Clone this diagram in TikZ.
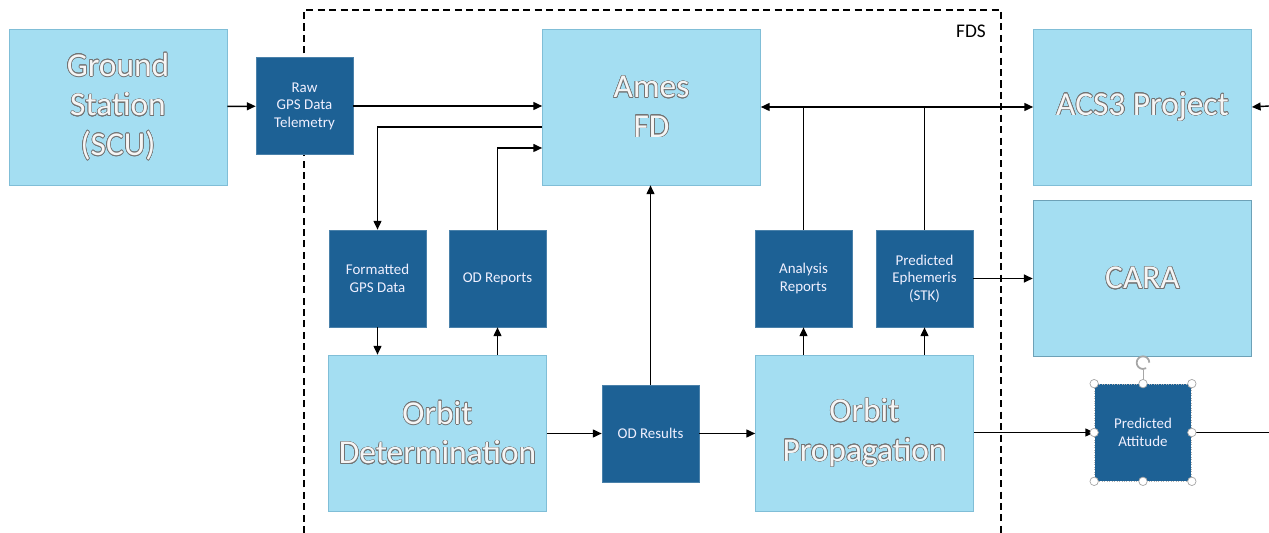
\documentclass[tikz,border=0pt]{standalone}
\usepackage{fontspec}
\setmainfont{Carlito}
\usepackage[copies]{contour}
\usepackage{tikz}
\usetikzlibrary{arrows.meta, positioning, calc}

\definecolor{lightbox}{RGB}{164,222,242}
\definecolor{lightedge}{RGB}{128,190,215}
\definecolor{darkbox}{RGB}{29,97,149}
\contourlength{0.35pt}
\newcommand{\outl}[1]{\contour{black!55}{\textcolor{white!92!gray}{#1}}}

\begin{document}
\begin{tikzpicture}[
    x=0.02cm, y=-0.02cm,
    bigbox/.style={rectangle, draw=lightedge, fill=lightbox, minimum width=4.36cm, minimum height=3.12cm, align=center, inner sep=0pt, font=\fontsize{19}{22.5}\selectfont},
    smallbox/.style={rectangle, draw=darkbox!80!white, fill=darkbox, minimum width=1.94cm, minimum height=1.94cm, align=center, inner sep=1pt, text=white!94!blue, font=\fontsize{8.5}{10}\selectfont},
    arr/.style={line width=0.8pt, -{Triangle[length=5pt, width=4.5pt]}},
    arrboth/.style={line width=0.8pt, {Triangle[length=5pt, width=4.5pt]}-{Triangle[length=5pt, width=4.5pt]}},
    plain/.style={line width=0.8pt},
    handle/.style={draw=gray!70, fill=white, line width=0.4pt}
]
\useasboundingbox (0,0) rectangle (1269,533);

% FDS frame
\draw[line width=0.9pt, dash pattern=on 4pt off 2.5pt] (304,533) -- (304,10) -- (1001,10) -- (1001,533);
\node[font=\fontsize{11}{13}\selectfont, anchor=east] (fdslabel) at (992,31) {FDS};

% Entities
\node[bigbox] (gs) at (118,107) {\outl{Ground}\\\outl{Station}\\\outl{(SCU)}};
\node[smallbox] (raw) at (304.5,106) {Raw\\GPS Data\\Telemetry};
\node[bigbox] (amesfd) at (651.5,107) {\outl{Ames}\\\outl{FD}};
\node[bigbox] (acs) at (1142.5,107) {\outl{ACS3 Project}};
\node[bigbox, draw=lightedge!85!black, line width=0.9pt] (cara) at (1142.5,278.5) {\outl{CARA}};

\node[smallbox] (fmt) at (377.5,278.5) {Formatted\\GPS Data};
\node[smallbox] (odrep) at (497.5,278.5) {OD Reports};
\node[smallbox] (anrep) at (803.5,278.5) {Analysis\\Reports};
\node[smallbox] (ephem) at (924.5,278.5) {Predicted\\Ephemeris\\(STK)};

\node[bigbox] (od) at (437.5,433) {\outl{Orbit}\\\outl{Determination}};
\node[smallbox] (odres) at (650.5,433.5) {OD Results};
\node[bigbox] (prop) at (864.5,433) {\outl{Orbit}\\\outl{Propagation}};
\node[smallbox, draw=gray!60, densely dotted] (att) at (1143,432.5) {Predicted\\Attitude};

\coordinate (acsin) at (1269,106);
\coordinate (attout) at (1269,432.5);

% Telemetry in
\draw[arr] (gs) -- (raw);
\draw[arr] (raw.east) -- (raw.east -| amesfd.west);

% Ames FD <-> OD branch
\draw[arr] ([yshift=-0.4cm]amesfd.west) -| (fmt.north);
\draw[arr] (odrep.north) |- ([yshift=-0.82cm]amesfd.west);
\draw[arr] (fmt.south) -- (fmt.south |- od.north);
\draw[arr] (odrep.south |- od.north) -- (odrep.south);

% OD results
\draw[arr] (od.east |- odres.west) -- (odres.west);
\draw[arr] (odres.north) -- (odres.north |- amesfd.south);
\draw[arr] (odres.east) -- (odres.east -| prop.west);

% Propagation products
\draw[arr] (anrep.south |- prop.north) -- (anrep.south);
\draw[arr] (ephem.south |- prop.north) -- (ephem.south);
\draw[arrboth] (amesfd.east) -- (acs.west);
\draw[plain] (anrep.north) -- (anrep.north |- amesfd.east);
\draw[plain] (ephem.north) -- (ephem.north |- amesfd.east);
\draw[arr] (ephem.east) -- (ephem.east -| cara.west);
\draw[arr] (prop.east |- att.west) -- (att.west);

% Outside links
\draw[plain] (att.east) -- (attout);
\draw[arr] (acsin) -- (acs.east);

% Selection handles
\draw[gray!70, line width=0.5pt] (att.north) -- ++(0,-14);
\draw[gray!70, line width=1pt] ($(att.north)+(0,-21)$) ++(3.6pt,0) arc[start angle=0, end angle=300, radius=3.6pt];
\foreach \p in {north west, north, north east, east, south east, south, south west, west}
    \draw[handle] (att.\p) circle (2.4pt);

\end{tikzpicture}
\end{document}
